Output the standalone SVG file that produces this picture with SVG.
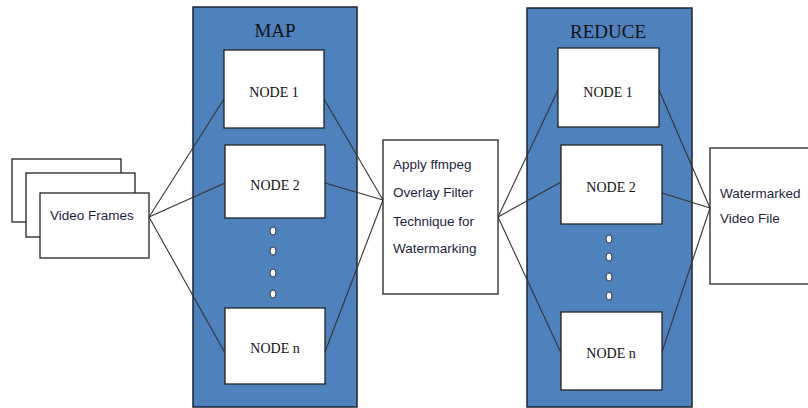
<svg xmlns="http://www.w3.org/2000/svg" width="808" height="408" viewBox="0 0 808 408">
<style>
.box{fill:#fff;stroke:#222;stroke-width:1.3}
.cont{fill:#4F81BD;stroke:#1b2533;stroke-width:1.5}
.dot{fill:#fff;stroke:#333;stroke-width:1}
.lbl{font-family:"Liberation Serif","Times New Roman",serif;font-size:14px;fill:#111;text-anchor:middle}
.title{font-family:"Liberation Serif","Times New Roman",serif;font-size:19px;fill:#111;text-anchor:middle}
.sans{font-family:"Liberation Sans",Arial,sans-serif;font-size:13.5px;fill:#1c1f3c}
.conn{stroke:#333;stroke-width:1.1;fill:none}
</style>
<rect width="808" height="408" fill="#fff"/>
<g id="map">
<rect class="cont" x="193" y="7" width="164" height="400"/>
<text class="title" x="275" y="37">MAP</text>
</g>
<g id="reduce">
<rect class="cont" x="527" y="8" width="165" height="399"/>
<text class="title" x="608" y="38">REDUCE</text>
</g>
<g id="connectors">
<line class="conn" x1="149" y1="217" x2="224" y2="99"/>
<line class="conn" x1="149" y1="217" x2="225" y2="183"/>
<line class="conn" x1="149" y1="217" x2="225" y2="353"/>
<line class="conn" x1="324" y1="99" x2="383" y2="200"/>
<line class="conn" x1="325" y1="183" x2="383" y2="200"/>
<line class="conn" x1="325" y1="352" x2="383" y2="200"/>
<line class="conn" x1="498" y1="217" x2="558" y2="90"/>
<line class="conn" x1="498" y1="217" x2="561" y2="182"/>
<line class="conn" x1="498" y1="217" x2="561" y2="353"/>
<line class="conn" x1="659" y1="90" x2="710" y2="208"/>
<line class="conn" x1="662" y1="193" x2="710" y2="208"/>
<line class="conn" x1="662" y1="352" x2="710" y2="208"/>
</g>
<g id="video-frames">
<rect class="box" x="12" y="159" width="109" height="63"/>
<rect class="box" x="26" y="173" width="109" height="64"/>
<rect class="box" x="40" y="193" width="109" height="65"/>
<text class="sans" x="50" y="220">Video Frames</text>
</g>
<g id="map-node1">
<rect class="box" x="224" y="50" width="100" height="78"/>
<text class="lbl" x="274" y="97">NODE 1</text>
</g>
<g id="map-node2">
<rect class="box" x="225" y="145" width="100" height="73"/>
<text class="lbl" x="275" y="190">NODE 2</text>
</g>
<g id="map-dots">
<ellipse class="dot" cx="273" cy="231" rx="3" ry="4"/>
<ellipse class="dot" cx="273" cy="251" rx="3" ry="4"/>
<ellipse class="dot" cx="273" cy="273" rx="3" ry="4"/>
<ellipse class="dot" cx="273" cy="294" rx="3" ry="4"/>
</g>
<g id="map-noden">
<rect class="box" x="225" y="308" width="100" height="76"/>
<text class="lbl" x="275" y="353">NODE n</text>
</g>
<g id="apply">
<rect class="box" x="383" y="140" width="115" height="154"/>
<text class="sans" x="393" y="169">Apply ffmpeg</text>
<text class="sans" x="393" y="197">Overlay Filter</text>
<text class="sans" x="393" y="226">Technique for</text>
<text class="sans" x="393" y="253">Watermarking</text>
</g>
<g id="reduce-node1">
<rect class="box" x="558" y="48" width="101" height="79"/>
<text class="lbl" x="608" y="97">NODE 1</text>
</g>
<g id="reduce-node2">
<rect class="box" x="561" y="145" width="101" height="79"/>
<text class="lbl" x="611" y="192">NODE 2</text>
</g>
<g id="reduce-dots">
<ellipse class="dot" cx="609" cy="239" rx="3" ry="4"/>
<ellipse class="dot" cx="609" cy="257" rx="3" ry="4"/>
<ellipse class="dot" cx="609" cy="277" rx="3" ry="4"/>
<ellipse class="dot" cx="609" cy="296" rx="3" ry="4"/>
</g>
<g id="reduce-noden">
<rect class="box" x="561" y="312" width="101" height="78"/>
<text class="lbl" x="611" y="358">NODE n</text>
</g>
<g id="watermarked">
<rect class="box" x="710" y="148" width="110" height="136"/>
<text class="sans" x="720" y="198">Watermarked</text>
<text class="sans" x="720" y="223">Video File</text>
</g>
</svg>
